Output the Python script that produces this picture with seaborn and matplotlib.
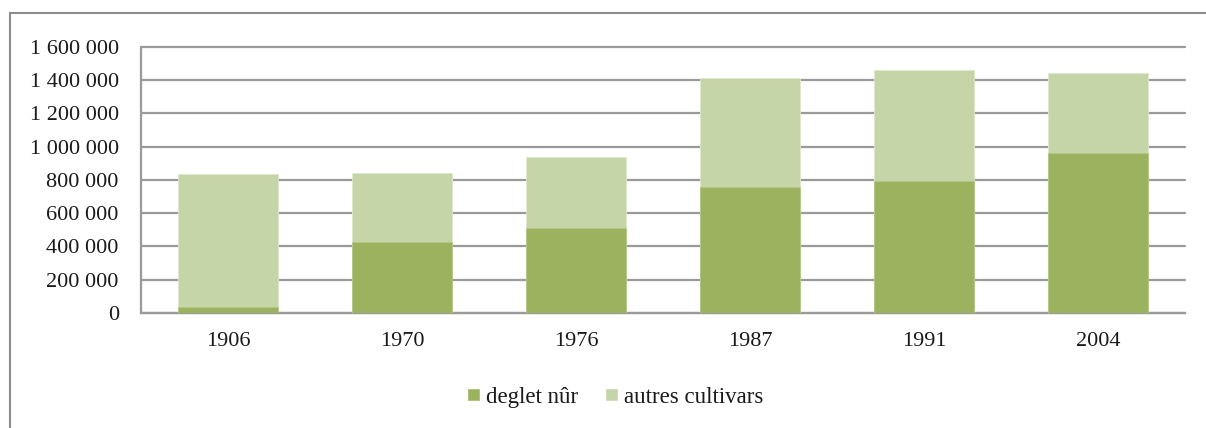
import pandas as pd
import matplotlib
matplotlib.use('Agg')
import matplotlib.pyplot as plt
import seaborn as sns
from matplotlib.patches import Patch, Rectangle
from matplotlib.ticker import FuncFormatter

# Data
years = ['1906', '1970', '1976', '1987', '1991', '2004']
deglet_nur = [38000, 429000, 509000, 756000, 792000, 963000]
autres_cultivars = [799000, 414000, 432000, 659000, 667000, 482000]

df = pd.DataFrame({'year': years, 'deglet': deglet_nur, 'autres': autres_cultivars})
df['total'] = df['deglet'] + df['autres']

dark = '#9BB25E'
light = '#C5D5A8'
grid_col = '#9a9a9a'

sns.set_style('white')
plt.rcParams['font.family'] = ['Liberation Serif', 'DejaVu Serif']

fig = plt.figure(figsize=(12.06, 4.28), dpi=100)
ax = fig.add_axes([0.1169, 0.2687, 0.8657, 0.6215])

# stacked bars: total behind, deglet on top
sns.barplot(data=df, x='year', y='total', color=light, width=0.57,
            saturation=1, ax=ax, zorder=3, edgecolor='#dde8cc', linewidth=0.6)
sns.barplot(data=df, x='year', y='deglet', color=dark, width=0.57,
            saturation=1, ax=ax, zorder=4, edgecolor='#b5c88a', linewidth=0.6)

ax.set_ylim(0, 1600000)
ax.set_yticks(range(0, 1600001, 200000))
ax.yaxis.set_major_formatter(FuncFormatter(lambda v, p: f'{int(v):,}'.replace(',', ' ')))
ax.yaxis.grid(True, color=grid_col, linewidth=1.6, zorder=0)
ax.set_axisbelow(True)
for gl in ax.get_ygridlines():
    gl.set_clip_on(False)
ax.set_xlabel('')
ax.set_ylabel('')

for s in ['top', 'right']:
    ax.spines[s].set_visible(False)
for s in ['left', 'bottom']:
    ax.spines[s].set_color(grid_col)
    ax.spines[s].set_linewidth(1.6)

ax.tick_params(axis='both', labelsize=16, colors='#1a1a1a', length=0)
ax.tick_params(axis='y', pad=16)
ax.tick_params(axis='x', pad=14)

handles = [Patch(facecolor=dark, label='deglet nûr'),
           Patch(facecolor=light, label='autres cultivars')]
fig.legend(handles=handles, loc='center', bbox_to_anchor=(0.51, 0.072), ncol=2,
           frameon=False, fontsize=16.5, handlelength=0.55, handleheight=0.55,
           handletextpad=0.25, columnspacing=1.2, labelcolor='#1a1a1a')

# outer chart frame
fig.add_artist(Rectangle((10 / 1206, -0.05), 1.2, 1 - 13 / 428 + 0.05,
                         transform=fig.transFigure, fill=False,
                         edgecolor='#8c8c8c', linewidth=1.5))

fig.savefig('out.png', dpi=100)
